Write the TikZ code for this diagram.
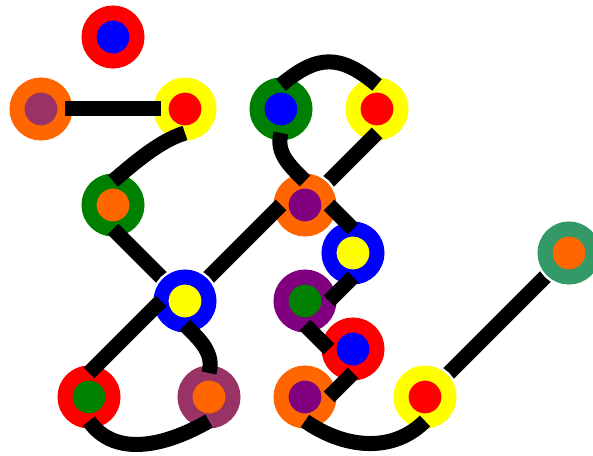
\documentclass[tikz,border=0pt]{standalone}
\usepackage{tikz}
\definecolor{cred}{HTML}{FF0000}
\definecolor{cblue}{HTML}{0000FF}
\definecolor{corange}{HTML}{FF6600}
\definecolor{cmaroon}{HTML}{993366}
\definecolor{cyellow}{HTML}{FFFF00}
\definecolor{cgreen}{HTML}{008000}
\definecolor{cpurple}{HTML}{800080}
\definecolor{cseagreen}{HTML}{339966}
\tikzset{
  ring/.style 2 args={circle, minimum size=48pt, inner sep=0pt, outer sep=0pt,
    draw=#1, fill=#2, line width=15pt, preaction={draw=white, line width=20pt}},
  link/.style={draw=black, line width=15pt}
}
\begin{document}
\begin{tikzpicture}[x=1pt,y=1pt]
\useasboundingbox (0,0) rectangle (593,455);
% centres
\coordinate (p7) at (305,250);
\coordinate (p9) at (569,202);
\coordinate (p10) at (185,154);
\coordinate (p16) at (425,58);
% first nodes
\node[ring={cred}{cblue}] (n1) at (113,418) {};
\node[ring={corange}{cmaroon}] (n2) at (41,346) {};
\node[ring={cyellow}{cred}] (n3) at (185,346) {};
\node[ring={cgreen}{cblue}] (n4) at (281,346) {};
\node[ring={cyellow}{cred}] (n5) at (377,346) {};
\node[ring={cgreen}{corange}] (n6) at (113,250) {};
% edge under node 7
\draw[link] (n5.south) -- (p7);
\node[ring={corange}{cpurple}] (n7) at (p7) {};
% edges under node 10
\draw[link] (n6.south) -- (p10);
\draw[link] (p10) -- (n7.west);
\node[ring={cblue}{cyellow}] (n10) at (p10) {};
% edge under nodes 16 and 9
\draw[link] (p16) -- (p9);
\node[ring={cyellow}{cred}] (n16) at (p16) {};
\node[ring={cseagreen}{corange}] (n9) at (p9) {};
% remaining nodes
\node[ring={cblue}{cyellow}] (n8) at (353,202) {};
\node[ring={cpurple}{cgreen}] (n11) at (305,154) {};
\node[ring={cred}{cblue}] (n12) at (353,106) {};
\node[ring={cred}{cgreen}] (n13) at (89,58) {};
\node[ring={cmaroon}{corange}] (n14) at (209,58) {};
\node[ring={corange}{cpurple}] (n15) at (305,58) {};
% edges on top
\draw[link] (n2.east) -- (n3.west);
\draw[link] (n3.south) to[out=197, in=40, looseness=0.8] (n6.north);
\draw[link] (n4.north) .. controls +(40:48) and +(140:48) .. (n5.north);
\draw[link] (n4.south) to[out=-105, in=135] (n7.north);
\draw[link] (n7.east) -- (n8.north);
\draw[link] (n8.south) -- (n11.east);
\draw[link] (n11.south) -- (n12.west);
\draw[link] (n12.south) -- (n15.east);
\draw[link] (n10.west) -- (n13.north);
\draw[link] (n10.south) to[out=-45, in=75] (n14.north);
\draw[link] (n13.south) to[out=-55, in=-150] (n14.south);
\draw[link] (n15.south) to[out=-35, in=-135] (n16.south);
\end{tikzpicture}
\end{document}
